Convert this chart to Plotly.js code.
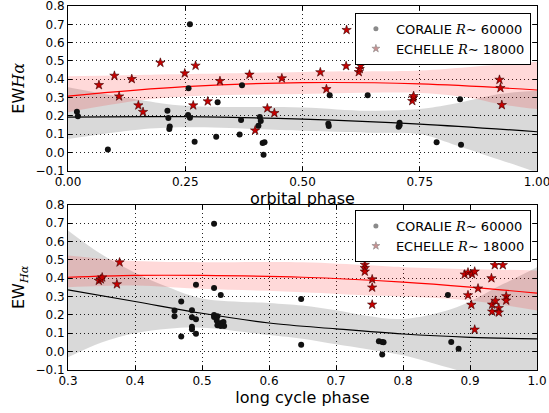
<!DOCTYPE html>
<html>
<head>
<meta charset="utf-8">
<script src="https://cdn.plot.ly/plotly-3.0.1.min.js"></script>
<style>html,body{margin:0;padding:0;background:#fff;}#chart{width:549px;height:413px;}</style>
</head>
<body>
<div id="chart"></div>
<script>
// ---- Top panel: orbital phase ----
var op_cor_x = [0.019,0.021,0.085,0.212,0.214,0.217,0.216,0.260,0.257,0.256,0.260,0.270,0.316,0.319,0.371,0.369,0.366,0.406,0.409,0.411,0.415,0.419,0.417,0.558,0.555,0.556,0.639,0.707,0.707,0.705,0.786,0.838,0.836];
var op_cor_y = [0.222,0.197,0.016,0.228,0.188,0.142,0.128,0.700,0.350,0.204,0.190,0.058,0.085,0.274,0.367,0.177,0.098,0.146,0.193,0.171,0.051,0.055,-0.013,0.312,0.157,0.144,0.312,0.162,0.149,0.140,0.055,0.042,0.290];
var op_ech_x = [0.066,0.099,0.109,0.136,0.150,0.160,0.197,0.249,0.272,0.267,0.298,0.324,0.387,0.399,0.425,0.440,0.456,0.538,0.551,0.593,0.594,0.620,0.622,0.624,0.734,0.736,0.737,0.920,0.922,0.925];
var op_ech_y = [0.368,0.419,0.306,0.401,0.257,0.221,0.490,0.432,0.474,0.257,0.279,0.390,0.425,0.120,0.241,0.215,0.405,0.438,0.346,0.472,0.669,0.439,0.456,0.474,0.281,0.299,0.308,0.397,0.352,0.259];
// fitted curves and confidence bands
var op_fit_x   = [0.00,0.25,0.50,0.75,1.00];
var op_fit_red = [0.308,0.359,0.381,0.374,0.341];
var op_fit_blk = [0.193,0.195,0.182,0.155,0.113];
var op_rb_x  = [0.00,0.15,0.25,0.50,0.75,0.85,0.92,1.00];
var op_rb_lo = [0.219,0.283,0.306,0.319,0.325,0.301,0.264,0.237];
var op_rb_hi = [0.416,0.423,0.428,0.440,0.447,0.465,0.480,0.496];
var op_gb_x  = [0.00,0.15,0.25,0.50,0.64,0.75,0.82,0.92,1.00];
var op_gb_lo = [0.073,0.124,0.137,0.118,0.108,0.100,0.045,-0.040,-0.110];
var op_gb_hi = [0.356,0.288,0.255,0.246,0.228,0.237,0.264,0.319,0.337];
var op_xticks = [0, 0.25, 0.5, 0.75, 1];

// ---- Bottom panel: long cycle phase ----
var lc_cor_x = [0.518,0.491,0.518,0.528,0.469,0.459,0.459,0.485,0.485,0.491,0.485,0.485,0.491,0.469,0.518,0.518,0.523,0.522,0.523,0.529,0.532,0.533,0.528,0.648,0.648,0.764,0.769,0.771,0.769,0.867,0.872,0.883];
var lc_cor_y = [0.697,0.364,0.347,0.309,0.273,0.224,0.193,0.225,0.187,0.176,0.136,0.122,0.098,0.083,0.200,0.189,0.193,0.169,0.144,0.156,0.162,0.140,0.140,0.287,0.038,0.056,0.053,0.051,-0.015,0.309,0.053,0.016];
var lc_ech_x = [0.346,0.349,0.351,0.373,0.377,0.743,0.743,0.743,0.754,0.754,0.754,0.892,0.897,0.903,0.907,0.912,0.897,0.902,0.907,0.932,0.937,0.949,0.933,0.933,0.938,0.943,0.943,0.954,0.954];
var lc_ech_y = [0.386,0.394,0.404,0.367,0.486,0.473,0.455,0.436,0.394,0.349,0.256,0.420,0.431,0.422,0.436,0.344,0.307,0.255,0.120,0.400,0.471,0.471,0.256,0.218,0.277,0.238,0.213,0.302,0.278];
var lc_fit_x   = [0.30,0.40,0.50,0.65,0.80,0.90,1.00];
var lc_fit_red = [0.405,0.415,0.415,0.405,0.378,0.351,0.318];
var lc_blk_x   = [0.30,0.40,0.50,0.60,0.70,0.80,0.90,1.00];
var lc_fit_blk = [0.336,0.273,0.209,0.156,0.124,0.096,0.078,0.069];
var lc_rb_x  = [0.30,0.40,0.50,0.65,0.75,0.80,0.90,1.00];
var lc_rb_lo = [0.351,0.360,0.342,0.324,0.306,0.300,0.278,0.224];
var lc_rb_hi = [0.524,0.493,0.487,0.487,0.470,0.460,0.450,0.442];
var lc_gb_x  = [0.30,0.35,0.40,0.45,0.50,0.60,0.65,0.70,0.745,0.80,0.88,0.95,1.00];
var lc_gb_hi = [0.660,0.530,0.430,0.350,0.290,0.265,0.251,0.225,0.196,0.178,0.242,0.369,0.460];
var lc_gb_lo = [-0.031,0.050,0.100,0.125,0.130,0.090,0.070,0.040,0.015,-0.020,-0.100,-0.170,-0.250];
var lc_xticks = [0.3, 0.4, 0.5, 0.6, 0.7, 0.8, 0.9, 1.0];

var y_ticks = [-0.1, 0.0, 0.1, 0.2, 0.3, 0.4, 0.5, 0.6, 0.7, 0.8];

var legCor = 'CORALIE <span style="font-family:\'DejaVu Serif\'"><i>R</i></span>∼ 60000';
var legEch = 'ECHELLE <span style="font-family:\'DejaVu Serif\'"><i>R</i></span>∼ 18000';

function band(x, lo, hi, color, xa, ya) {
  return [
    {x: x, y: lo, xaxis: xa, yaxis: ya, mode: 'lines', line: {width: 0, shape: 'spline', color: color}, showlegend: false, hoverinfo: 'skip'},
    {x: x, y: hi, xaxis: xa, yaxis: ya, mode: 'lines', line: {width: 0, shape: 'spline', color: color}, fill: 'tonexty', fillcolor: color, showlegend: false, hoverinfo: 'skip'}
  ];
}
function line(x, y, color, xa, ya) {
  return {x: x, y: y, xaxis: xa, yaxis: ya, mode: 'lines', line: {width: 1.2, shape: 'spline', color: color}, showlegend: false};
}
function dots(x, y, xa, ya) {
  return {x: x, y: y, xaxis: xa, yaxis: ya, mode: 'markers', marker: {symbol: 'circle', size: 6, color: '#111'}, showlegend: false};
}
function stars(x, y, xa, ya) {
  return {x: x, y: y, xaxis: xa, yaxis: ya, mode: 'markers', marker: {symbol: 'star', size: 7, color: '#c80000', line: {color: '#3a0000', width: 0.6}}, showlegend: false};
}
function legItems(leg) {
  return [
    {x: [null], y: [null], mode: 'markers', name: legCor, legend: leg, marker: {symbol: 'circle', size: 5, color: '#8a8a8a'}},
    {x: [null], y: [null], mode: 'markers', name: legEch, legend: leg, marker: {symbol: 'star', size: 6, color: '#c89090', line: {color: '#8a8a8a', width: 0.6}}}
  ];
}

var data = [].concat(
  band(op_gb_x, op_gb_lo, op_gb_hi, 'rgba(0,0,0,0.15)', 'x', 'y'),
  band(op_rb_x, op_rb_lo, op_rb_hi, 'rgba(255,0,0,0.15)', 'x', 'y'),
  [line(op_fit_x, op_fit_blk, '#000', 'x', 'y'), line(op_fit_x, op_fit_red, '#ff0000', 'x', 'y'),
   dots(op_cor_x, op_cor_y, 'x', 'y'), stars(op_ech_x, op_ech_y, 'x', 'y')],
  band(lc_gb_x, lc_gb_lo, lc_gb_hi, 'rgba(0,0,0,0.15)', 'x2', 'y2'),
  band(lc_rb_x, lc_rb_lo, lc_rb_hi, 'rgba(255,0,0,0.15)', 'x2', 'y2'),
  [line(lc_blk_x, lc_fit_blk, '#000', 'x2', 'y2'), line(lc_fit_x, lc_fit_red, '#ff0000', 'x2', 'y2'),
   dots(lc_cor_x, lc_cor_y, 'x2', 'y2'), stars(lc_ech_x, lc_ech_y, 'x2', 'y2')],
  legItems('legend'), legItems('legend2')
);

var axCommon = {
  showline: true, linecolor: '#000', linewidth: 1, mirror: 'ticks',
  ticks: 'inside', ticklen: 4, tickcolor: '#000', tickwidth: 1,
  showgrid: true, gridcolor: '#222', gridwidth: 1, griddash: '1px,3px',
  zeroline: false, tickfont: {size: 12, color: '#000'}, ticklabeloverflow: 'allow'
};
function ax(extra) { return Object.assign({}, axCommon, extra); }

var legCommon = {
  bgcolor: '#fff', bordercolor: '#000', borderwidth: 1, traceorder: 'normal',
  font: {size: 13, color: '#000', family: 'DejaVu Sans'},
  xanchor: 'right', yanchor: 'top', x: 0.987, tracegroupgap: 0
};

var layout = {
  width: 549, height: 413,
  margin: {l: 68, r: 12, t: 6, b: 43},
  paper_bgcolor: '#fff', plot_bgcolor: '#fff',
  font: {family: 'DejaVu Sans', color: '#000'},
  xaxis: ax({domain: [0, 1], range: [0, 1], tickmode: 'array', tickvals: op_xticks, tickformat: '.2f', anchor: 'y',
    title: {text: 'orbital phase', font: {size: 16}, standoff: 0}}),
  yaxis: ax({domain: [0.5475, 1], range: [-0.1, 0.8], tickmode: 'array', tickvals: y_ticks, tickformat: '.1f', anchor: 'x',
    title: {text: 'EW<span style="font-family:\'DejaVu Serif\'"><i>Hα</i></span>', font: {size: 16}, standoff: 6}}),
  xaxis2: ax({domain: [0, 1], range: [0.3, 1.0], tickmode: 'array', tickvals: lc_xticks, tickformat: '.1f', anchor: 'y2',
    title: {text: 'long cycle phase', font: {size: 16}, standoff: 2}}),
  yaxis2: ax({domain: [0, 0.4541], range: [-0.1, 0.8], tickmode: 'array', tickvals: y_ticks, tickformat: '.1f', anchor: 'x2',
    title: {text: 'EW<sub><span style="font-family:\'DejaVu Serif\'"><i>Hα</i></span></sub>', font: {size: 16}, standoff: 6}}),
  legend: Object.assign({}, legCommon, {y: 0.9816}),
  legend2: Object.assign({}, legCommon, {y: 0.4396}),
  showlegend: true
};

Plotly.newPlot('chart', data, layout, {displayModeBar: false, staticPlot: true});
</script>
</body>
</html>
